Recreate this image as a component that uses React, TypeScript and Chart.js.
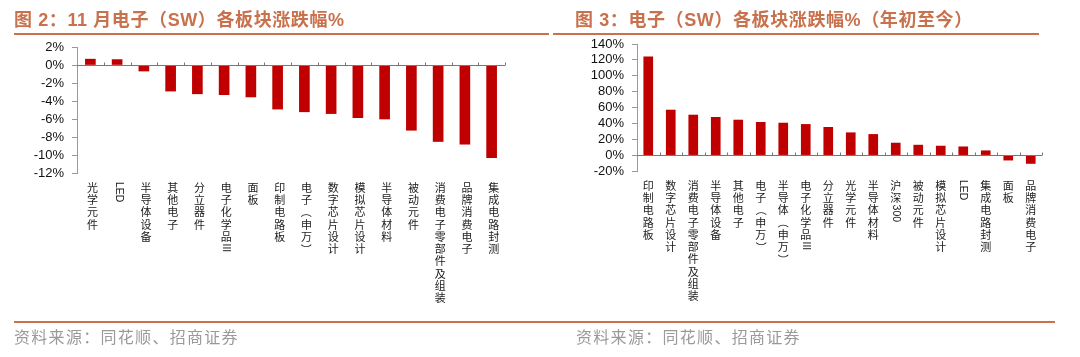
import React, { useEffect, useRef } from "react";
import { Chart, registerables } from "chart.js";

Chart.register(...registerables);

// ---------- data ----------
const leftCategories = [
  "光学元件", "LED", "半导体设备", "其他电子", "分立器件", "电子化学品III", "面板", "印制电路板",
  "电子（申万）", "数字芯片设计", "模拟芯片设计", "半导体材料", "被动元件", "消费电子零部件及组装",
  "品牌消费电子", "集成电路封测",
];
const leftValues = [0.65, 0.6, -0.67, -2.9, -3.2, -3.3, -3.55, -4.9, -5.2, -5.4, -5.85, -6.0, -7.25, -8.5, -8.8, -10.3];
const leftTicks = { min: -12, max: 2, step: 2 };

const rightCategories = [
  "印制电路板", "数字芯片设计", "消费电子零部件及组装", "半导体设备", "其他电子", "电子（申万）",
  "半导体（申万）", "电子化学品III", "分立器件", "光学元件", "半导体材料", "沪深300", "被动元件",
  "模拟芯片设计", "LED", "集成电路封测", "面板", "品牌消费电子",
];
const rightValues = [123.8, 56.8, 50.5, 47.6, 44.2, 41.3, 40.4, 38.7, 35.0, 28.2, 26.1, 15.2, 12.6, 11.4, 10.5, 5.5, -6.3, -10.5];
const rightTicks = { min: -20, max: 140, step: 20 };

const leftTitle = "图 2：11 月电子（SW）各板块涨跌幅%";
const rightTitle = "图 3：电子（SW）各板块涨跌幅%（年初至今）";
const sourceText = "资料来源：同花顺、招商证券";

// ---------- styling ----------
const BAR = "#C00000";
const ACCENT = "#C8714C";
const CJK = "'Noto Sans CJK SC', sans-serif";
const LATIN = "'Liberation Sans', Arial, sans-serif";

function vertLabelsPlugin(labels: string[], offset: number) {
  return {
    id: "vlabels",
    afterDraw(chart: any) {
      const ctx = chart.ctx;
      const xs = chart.scales.x;
      const top = chart.chartArea.bottom + 9;
      ctx.save();
      ctx.fillStyle = "#1a1a1a";
      labels.forEach((lab, i) => {
        const x = xs.getPixelForValue(i) + offset;
        let y = top;
        const segs: string[] = lab.match(/[A-Za-z0-9]+|./g) || [];
        for (const s of segs) {
          const latin = /^[A-Za-z0-9]+$/.test(s);
          if (latin || s === "（" || s === "）") {
            ctx.font = latin ? `10.5px ${LATIN}` : `11px ${CJK}`;
            const w = ctx.measureText(s).width;
            ctx.save();
            ctx.translate(x, y);
            ctx.rotate(Math.PI / 2);
            ctx.textAlign = "left";
            ctx.textBaseline = "middle";
            ctx.fillText(s, 0, 0);
            ctx.restore();
            y += w + 1.5;
          } else {
            ctx.font = `11px ${CJK}`;
            ctx.textAlign = "center";
            ctx.textBaseline = "top";
            ctx.fillText(s, x, y);
            y += 12.3;
          }
        }
      });
      ctx.restore();
    },
  };
}

const zeroTicksPlugin = {
  id: "zeroTicks",
  afterDatasetsDraw(chart: any) {
    const ctx = chart.ctx;
    const ys = chart.scales.y;
    const { left, right } = chart.chartArea;
    const n = chart.data.labels.length;
    const y0 = Math.round(ys.getPixelForValue(0)) + 0.5;
    ctx.save();
    ctx.strokeStyle = "#777";
    ctx.lineWidth = 1;
    ctx.beginPath();
    ctx.moveTo(left, y0);
    ctx.lineTo(right, y0);
    for (let i = 1; i <= n; i++) {
      const x = Math.round(left + ((right - left) * i) / n) + 0.5;
      ctx.moveTo(x, y0);
      ctx.lineTo(x, y0 - 3);
    }
    ctx.stroke();
    ctx.restore();
  },
};

function BarPanel(props: {
  labels: string[];
  values: number[];
  ticks: { min: number; max: number; step: number };
  axisWidth: number;
  pad: { top: number; bottom: number; right: number };
  barThickness: number;
  labelOffset: number;
}) {
  const ref = useRef<HTMLCanvasElement>(null);
  useEffect(() => {
    if (!ref.current) return;
    const chart = new Chart(ref.current, {
      type: "bar",
      data: {
        labels: props.labels,
        datasets: [{ data: props.values, backgroundColor: BAR, barThickness: props.barThickness }],
      },
      options: {
        animation: false,
        responsive: false,
        layout: {
          autoPadding: false,
          padding: { left: 0, top: props.pad.top, bottom: props.pad.bottom, right: props.pad.right },
        },
        plugins: { legend: { display: false }, tooltip: { enabled: false } },
        scales: {
          x: { display: false },
          y: {
            min: props.ticks.min,
            max: props.ticks.max,
            afterFit: (scale: any) => {
              scale.width = props.axisWidth;
            },
            ticks: {
              stepSize: props.ticks.step,
              autoSkip: false,
              color: "#111",
              padding: 8,
              font: { family: LATIN, size: 13 },
              callback: (v: any) => `${v}%`,
            },
            grid: { drawOnChartArea: false, drawTicks: true, tickLength: 5, tickColor: "#999", color: "#999" },
            border: { display: true, color: "#999" },
          },
        },
      } as any,
      plugins: [zeroTicksPlugin, vertLabelsPlugin(props.labels, props.labelOffset)],
    });
    return () => chart.destroy();
  }, []);
  return <canvas ref={ref} width={540} height={357} style={{ display: "block", width: 540, height: 357 }} />;
}

export default function App() {
  const titleStyle: React.CSSProperties = {
    position: "absolute",
    top: 9,
    fontFamily: `${LATIN.split(",")[0]}, ${CJK}`,
    fontWeight: 700,
    fontSize: 18,
    letterSpacing: 0.6,
    color: ACCENT,
    whiteSpace: "nowrap",
    lineHeight: "22px",
  };
  const srcStyle: React.CSSProperties = {
    position: "absolute",
    top: 326,
    fontFamily: CJK,
    fontSize: 16,
    letterSpacing: 1.3,
    color: "#9a9a9a",
    whiteSpace: "nowrap",
    lineHeight: "20px",
  };
  return (
    <div style={{ position: "absolute", left: 0, top: 0, width: 1080, height: 357, background: "#fff", overflow: "hidden" }}>
      <div style={{ position: "absolute", left: 0, top: 0 }}>
        <BarPanel
          labels={leftCategories}
          values={leftValues}
          ticks={leftTicks}
          axisWidth={77}
          pad={{ top: 47, bottom: 184, right: 35 }}
          barThickness={10}
          labelOffset={2}
        />
      </div>
      <div style={{ position: "absolute", left: 540, top: 0 }}>
        <BarPanel
          labels={rightCategories}
          values={rightValues}
          ticks={rightTicks}
          axisWidth={97}
          pad={{ top: 44, bottom: 186, right: 38 }}
          barThickness={9}
          labelOffset={0}
        />
      </div>
      <div style={{ ...titleStyle, left: 14 }}>{leftTitle}</div>
      <div style={{ ...titleStyle, left: 575 }}>{rightTitle}</div>
      <div style={{ position: "absolute", left: 14, top: 33, width: 535, height: 2, background: ACCENT }} />
      <div style={{ position: "absolute", left: 553, top: 33, width: 486, height: 2, background: ACCENT }} />
      <div style={{ position: "absolute", left: 14, top: 321, width: 1041, height: 2, background: ACCENT }} />
      <div style={{ ...srcStyle, left: 14 }}>{sourceText}</div>
      <div style={{ ...srcStyle, left: 576 }}>{sourceText}</div>
    </div>
  );
}
